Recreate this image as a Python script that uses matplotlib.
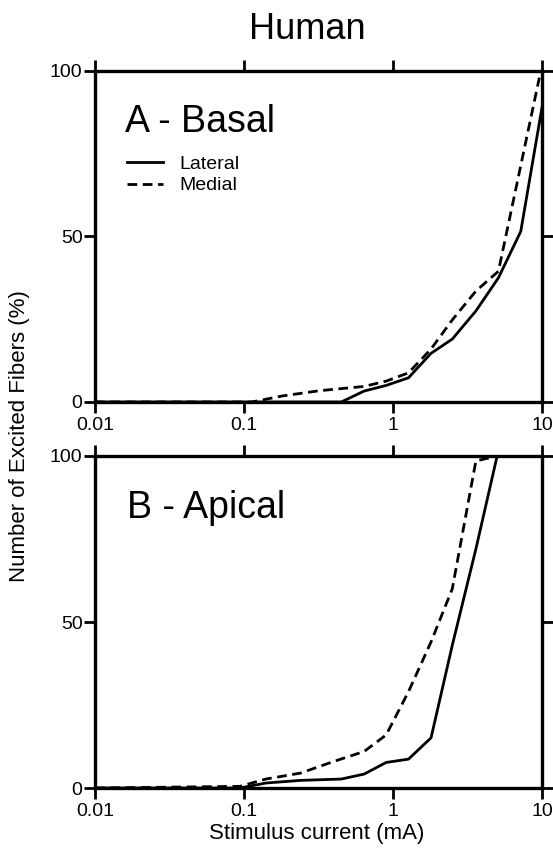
import matplotlib
matplotlib.use("Agg")
import matplotlib.pyplot as plt

plt.rcParams["font.family"] = ["Liberation Sans", "DejaVu Sans"]

# --- data ---
x_ticks = [0.01, 0.1, 1, 10]
x_tick_labels = ["0.01", "0.1", "1", "10"]
y_ticks = [0, 50, 100]

basal_lat_x = [0.01, 0.45, 0.64, 0.9, 1.27, 1.8, 2.5, 3.6, 5.1, 7.2, 10]
basal_lat_y = [0, 0, 3.3, 5.0, 7.3, 14.7, 19, 27.5, 37.5, 51.5, 89]
basal_med_x = [0.01, 0.113, 0.18, 0.32, 0.64, 0.9, 1.27, 1.8, 2.5, 3.6, 5.1, 9.6]
basal_med_y = [0, 0, 1.8, 3.4, 4.7, 6.3, 8.8, 16, 24.8, 33.5, 39.5, 98]

apical_lat_x = [0.01, 0.094, 0.14, 0.24, 0.45, 0.64, 0.9, 1.27, 1.8, 2.5, 3.6, 5.0]
apical_lat_y = [0, 0, 1.5, 2.3, 2.7, 4.2, 7.7, 8.7, 15.1, 43, 72, 100]
apical_med_x = [0.01, 0.094, 0.14, 0.24, 0.4, 0.64, 0.9, 1.27, 1.8, 2.5, 3.6, 5.0]
apical_med_y = [0, 0.5, 2.7, 4.5, 8, 11, 16, 29, 44, 60, 98.5, 100]

fig = plt.figure(figsize=(5.53, 8.52), dpi=100)
ax_a = fig.add_axes([0.1718, 0.5282, 0.8083, 0.3885])
ax_b = fig.add_axes([0.1718, 0.0751, 0.8083, 0.3897])


def style_axes(ax):
    ax.set_xscale("log")
    ax.set_xlim(0.01, 10)
    ax.set_ylim(0, 100)
    ax.set_xticks(x_ticks)
    ax.set_xticklabels(x_tick_labels)
    ax.minorticks_off()
    ax.set_yticks(y_ticks)
    for sp in ax.spines.values():
        sp.set_linewidth(2.4)
    ax.tick_params(axis="both", which="major", direction="out", length=8, width=2,
                   labelsize=14, top=True, right=True)
    ax.tick_params(axis="x", pad=3)
    ax.tick_params(axis="y", pad=1)


dash = (0, (3.5, 2))
ax_a.plot(basal_lat_x, basal_lat_y, color="black", lw=2, label="Lateral")
ax_a.plot(basal_med_x, basal_med_y, color="black", lw=2, linestyle=dash, label="Medial")
ax_b.plot(apical_lat_x, apical_lat_y, color="black", lw=2)
ax_b.plot(apical_med_x, apical_med_y, color="black", lw=2, linestyle=dash)

for ax in (ax_a, ax_b):
    style_axes(ax)

ax_a.text(0.067, 0.817, "A - Basal", transform=ax_a.transAxes, fontsize=27,
          ha="left", va="baseline")
ax_b.text(0.071, 0.814, "B - Apical", transform=ax_b.transAxes, fontsize=27,
          ha="left", va="baseline")

ax_a.legend(loc="upper left", bbox_to_anchor=(0.071, 0.745), frameon=False,
            borderpad=0, borderaxespad=0, handlelength=1.85, handletextpad=0.85,
            labelspacing=0.2, fontsize=14)

fig.text(307 / 553, 1 - 39 / 852, "Human", ha="center", va="baseline", fontsize=26)
fig.text(20 / 553, 1 - 436 / 852, "Number of Excited Fibers (%)", rotation=90,
         ha="center", va="center", fontsize=16)
fig.text(317 / 553, 1 - 834 / 852, "Stimulus current (mA)", ha="center",
         va="center", fontsize=16)

fig.savefig("out.png", dpi=100)
